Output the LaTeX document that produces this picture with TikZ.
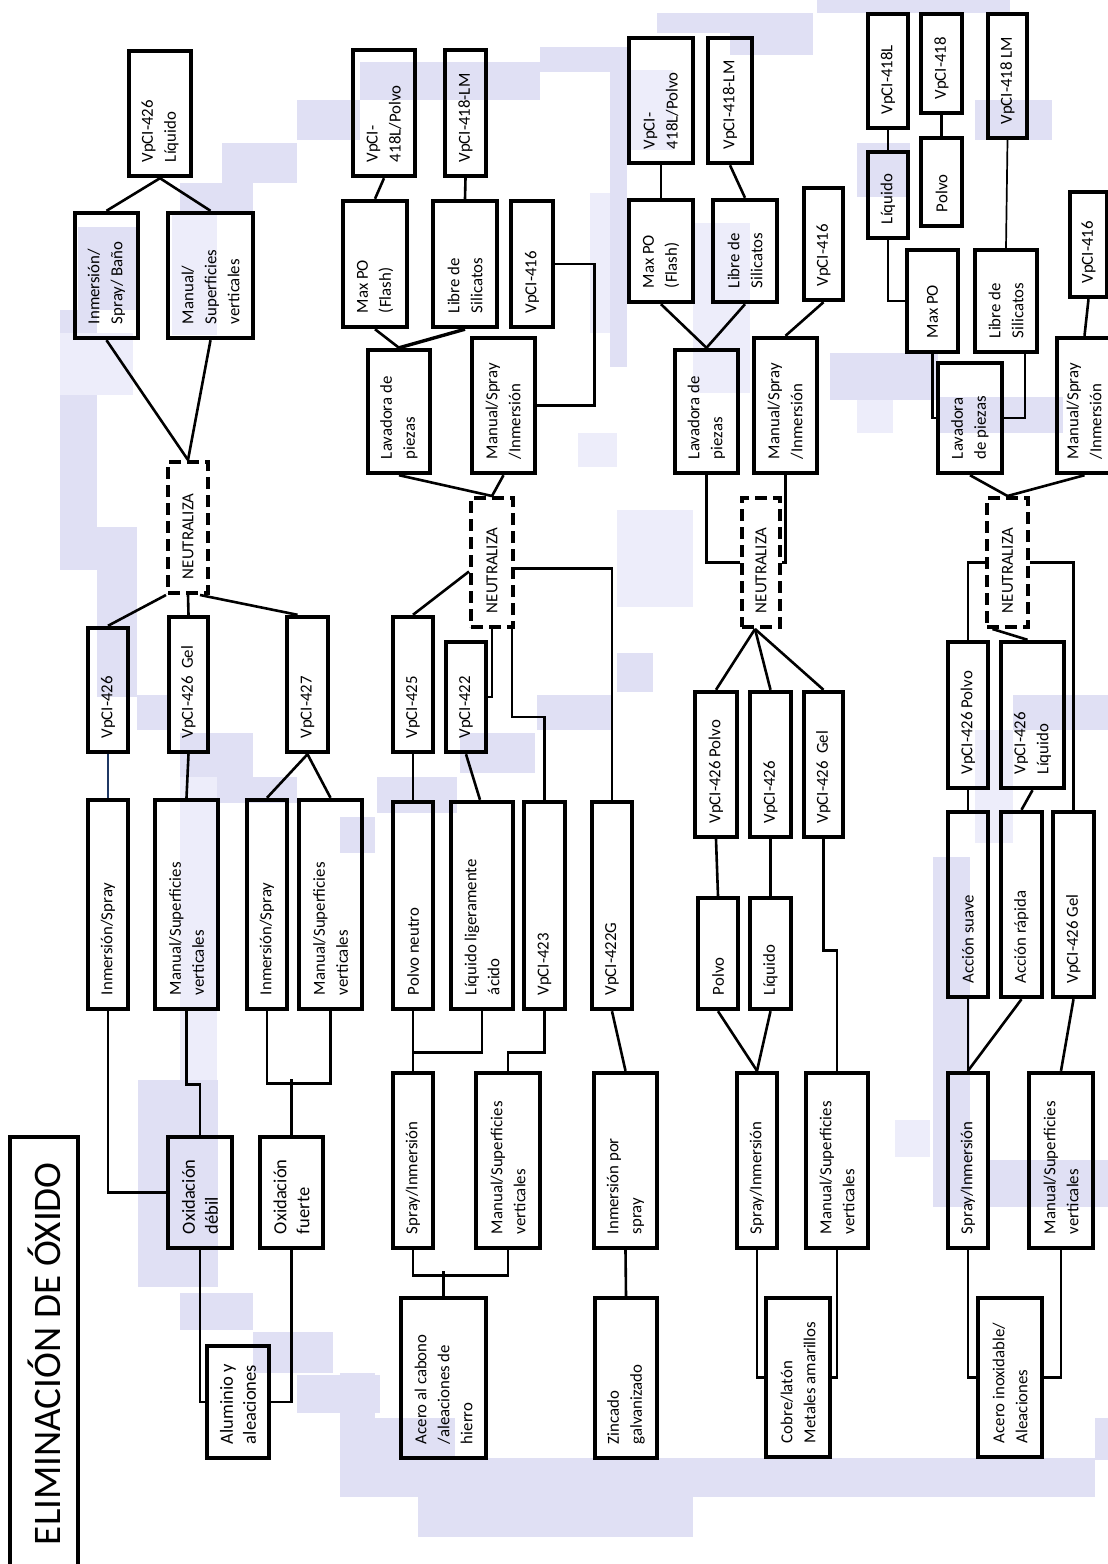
\documentclass[tikz,border=0pt]{standalone}
\usepackage{fontspec}
\setmainfont{Carlito}
\usepackage{graphicx}
\usetikzlibrary{calc}
\definecolor{lavanda}{RGB}{224,224,244}
\definecolor{lavclara}{RGB}{237,237,250}
\definecolor{azulosc}{RGB}{31,56,100}
% texto girado, alineado abajo dentro de la caja
\newcommand{\vt}[2]{\rotatebox{90}{\parbox{\dimexpr#1pt-28pt\relax}{\raggedright #2}}}

\begin{document}
\begin{tikzpicture}[x=1pt, y=-1pt,
    box/.style={draw, line width=4.4pt, inner sep=0pt, font=\fontsize{16.8}{23}\selectfont},
    neutra/.style={box, line width=4pt, dash pattern=on 12pt off 6pt},
    grande/.style={font=\fontsize{18.5}{23}\selectfont},
    link/.style={line width=2.6pt},
    thinlink/.style={line width=1.7pt}]
    \useasboundingbox (0,0) rectangle (1108,1564);

    % Fondo (franja lavanda)
    \foreach \xa/\ya/\xb/\yb in {297/100/360/140, 360/62/540/100, 540/47/627/72, 222/143/297/183, 180/183/253/213,
        78/227/137/310, 60/310/97/570, 97/527/137/697, 137/695/168/730,
        180/733/253/777, 217/777/297/803, 138/1080/218/1287,
        180/1293/253/1330, 253/1332/333/1373, 297/1375/380/1413, 340/1373/375/1497,
        375/1418/455/1497, 455/1458/1095/1497, 418/1497/693/1537, 1095/1418/1108/1460,
        933/857/970/1207, 990/1160/1108/1207, 1013/695/1108/730,
        617/653/653/692, 537/695/613/730, 460/733/535/773, 377/777/457/813, 340/817/375/853,
        610/67/627/367, 657/13/780/33, 817/0/1010/13, 730/13/813/55,
        857/143/910/197, 975/100/1052/140, 830/353/938/400, 938/397/1063/433}
        \fill[lavanda] (\xa,\ya) rectangle (\xb,\yb);
    \foreach \xa/\ya/\xb/\yb in {60/333/133/395, 172/215/217/335, 180/777/217/1080, 617/510/693/607,
        627/70/673/150, 590/193/610/333, 578/433/617/467, 693/223/750/393, 975/730/1013/843,
        895/1120/930/1157, 857/400/893/433}
        \fill[lavclara] (\xa,\ya) rectangle (\xb,\yb);

    % Titulo
    \node[box, minimum width=68, minimum height=463, font=\fontsize{39}{42}\selectfont] (titulo) at (44,1368.5) {\rotatebox{90}{\makebox[353pt][l]{ELIMINACIÓN DE ÓXIDO}}};

    % Aluminio y aleaciones
    \node[box, minimum width=62, minimum height=125] (c1liq) at (160,113.5) {\vt{125}{VpCI-426\\Líquido}};
    \node[box, minimum width=63, minimum height=125] (c1inm) at (106.5,275.5) {\vt{125}{Inmersión/\\Spray/ Baño}};
    \node[box, minimum width=85, minimum height=125] (c1man) at (210.5,275.5) {\vt{125}{Manual/\\Superficies\\verticales}};
    \node[neutra, minimum width=40, minimum height=131] (n1) at (188,527.5) {\vt{131}{NEUTRALIZA}};
    \node[box, minimum width=40, minimum height=124] (c1v426) at (108,690) {\vt{124}{VpCI-426}};
    \node[box, minimum width=39, minimum height=135] (c1gel) at (188.5,684.5) {\vt{135}{VpCI-426~ Gel}};
    \node[box, minimum width=41, minimum height=135] (c1v427) at (307.5,684.5) {\vt{135}{VpCI-427}};
    \node[box, minimum width=40, minimum height=209] (c1is) at (108,904.5) {\vt{209}{Inmersión/Spray}};
    \node[box, minimum width=63, minimum height=209] (c1ms) at (186.5,904.5) {\vt{209}{Manual/Superficies\\verticales}};
    \node[box, minimum width=40, minimum height=209] (c1is2) at (267,904.5) {\vt{209}{Inmersión/Spray}};
    \node[box, minimum width=63, minimum height=209] (c1ms2) at (330.5,904.5) {\vt{209}{Manual/Superficies\\verticales}};
    \node[box, grande, minimum width=64, minimum height=111] (odeb) at (200,1192.5) {\vt{111}{Oxidación\\débil}};
    \node[box, grande, minimum width=63, minimum height=111] (ofue) at (291.5,1192.5) {\vt{111}{Oxidación\\fuerte}};
    \node[box, grande, minimum width=62, minimum height=112] (alu) at (238,1402) {\vt{112}{Aluminio~y\\aleaciones}};

    \draw[link] (c1liq.south) -- (c1inm.north);
    \draw[link] (c1liq.south) -- (c1man.north);
    \draw[link] (c1inm.south) -- (n1.north);
    \draw[link] (c1man.south) -- (n1.north);
    \draw[link] (n1.south west) -- (c1v426.north);
    \draw[link] (n1.south) -- (c1gel.north);
    \draw[link] ($(n1.south)+(12,0)$) -- ($(c1v427.north)+(-10,0)$);
    \draw[thinlink, azulosc] (c1v426.south) -- (c1is.north);
    \draw[link] (c1gel.south) -- (c1ms.north);
    \draw[link] (c1v427.south) -- (c1is2.north);
    \draw[link] (c1v427.south) -- (c1ms2.north);
    \draw[link] (c1is.south) |- (odeb.west);
    \draw[link] (c1ms.south) -- ++(0,73) -| (odeb.north);
    \draw[link] (c1is2.south) -- ++(0,72) -| (c1ms2.south);
    \draw[link] (ofue.north) -- ++(0,-56);
    \draw[link] (odeb.south) |- (alu.west);
    \draw[link] (ofue.south) |- (alu.east);

    % Acero al carbono y zincado
    \node[box, minimum width=62, minimum height=126] (c2p418) at (384,113) {\vt{126}{VpCI-\\418L/Polvo}};
    \node[box, minimum width=41, minimum height=126] (c2lm) at (465.5,113) {\vt{126}{VpCI-418-LM}};
    \node[box, minimum width=64, minimum height=126] (c2max) at (375,264) {\vt{126}{Max PO\\(Flash)}};
    \node[box, minimum width=64, minimum height=126] (c2lib) at (465,264) {\vt{126}{Libre de\\Silicatos}};
    \node[box, minimum width=42, minimum height=126] (c2v416) at (532,264) {\vt{126}{VpCI-416}};
    \node[box, minimum width=62, minimum height=123] (c2lav) at (399,411.5) {\vt{123}{Lavadora de\\piezas}};
    \node[box, minimum width=63, minimum height=135] (c2msi) at (503.5,405.5) {\vt{135}{Manual/Spray\\/Inmersión}};
    \node[neutra, minimum width=42, minimum height=129] (n2) at (492,562.5) {\vt{129}{NEUTRALIZA}};
    \node[box, minimum width=40, minimum height=135] (c2v425) at (413,684.5) {\vt{135}{VpCI-425}};
    \node[box, minimum width=40, minimum height=110] (c2v422) at (466,697) {\vt{110}{VpCI-422}};
    \node[box, minimum width=40, minimum height=207] (c2pn) at (413,905.5) {\vt{207}{Polvo neutro}};
    \node[box, minimum width=62, minimum height=207] (c2lla) at (482,905.5) {\vt{207}{Líquido ligeramente\\ácido}};
    \node[box, minimum width=41, minimum height=207] (c2v423) at (544.5,905.5) {\vt{207}{VpCI-423}};
    \node[box, minimum width=40, minimum height=207] (c2v422g) at (612,905.5) {\vt{207}{VpCI-422G}};
    \node[box, minimum width=40, minimum height=175] (c2si) at (413,1160.5) {\vt{175}{Spray/Inmersión}};
    \node[box, minimum width=64, minimum height=175] (c2ms) at (508,1160.5) {\vt{175}{Manual/Superficies\\verticales}};
    \node[box, minimum width=63, minimum height=175] (c2ips) at (625.5,1160.5) {\vt{175}{Inmersión por\\spray}};
    \node[box, minimum width=85, minimum height=160] (acero) at (443.5,1378) {\vt{160}{Acero al cabono\\/aleaciones de\\hierro}};
    \node[box, minimum width=62, minimum height=160] (zinc) at (626,1378) {\vt{160}{Zincado\\galvanizado}};

    \draw[link] (c2p418.south) -- (c2max.north);
    \draw[link] (c2lm.south) -- (c2lib.north);
    \draw[link] (c2max.south) -- (c2lav.north);
    \draw[line width=3.4pt] (c2lib.south) -- (c2lav.north);
    \draw[link] (c2v416.east) -- ++(39,0) |- (c2msi.east);
    \draw[link] (c2lav.south) -- (n2.north);
    \draw[link] (c2msi.south) -- (n2.north);
    \draw[link] ($(n2.west)+(0,9)$) -- (c2v425.north);
    \draw[link] (n2.south) |- (c2v422.east);
    \draw[link] ($(n2.south east)+(-3,0)$) -- ++(0,88) -| (c2v423.north);
    \draw[link] ($(n2.east)+(0,6)$) -| (c2v422g.north);
    \draw[link] (c2v425.south) -- (c2pn.north);
    \draw[link] (c2v422.south) -- ($(c2lla.north)+(-2,0)$);
    \draw[link] (c2pn.south) -- (c2si.north);
    \draw[link] (c2lla.south) -- ++(0,41) -| (c2si.north);
    \draw[link] (c2v423.south) -- ++(0,41) -| (c2ms.north);
    \draw[link] (c2v422g.south) -- (c2ips.north);
    \draw[link] (c2si.south) -- ++(0,25) -| (c2ms.south);
    \draw[link] (acero.north) -- ++(0,-25);
    \draw[link] (c2ips.south) -- (zinc.north);

    % Cobre / laton
    \node[box, minimum width=64, minimum height=125] (c3p418) at (661,100.5) {\vt{125}{VpCI-\\418L/Polvo}};
    \node[box, minimum width=44, minimum height=125] (c3lm) at (730,100.5) {\vt{125}{VpCI-418-LM}};
    \node[box, minimum width=64, minimum height=102] (c3max) at (661,251) {\vt{102}{Max PO\\(Flash)}};
    \node[box, minimum width=64, minimum height=102] (c3lib) at (745,251) {\vt{102}{Libre de\\Silicatos}};
    \node[box, minimum width=39, minimum height=112] (c3v416) at (823.5,244) {\vt{112}{VpCI-416}};
    \node[box, minimum width=63, minimum height=123] (c3lav) at (706.5,411.5) {\vt{123}{Lavadora de\\piezas}};
    \node[box, minimum width=63, minimum height=135] (c3msi) at (785.5,405.5) {\vt{135}{Manual/Spray\\/Inmersión}};
    \node[neutra, minimum width=38, minimum height=129] (n3) at (761,562.5) {\vt{129}{NEUTRALIZA}};
    \node[box, minimum width=42, minimum height=145] (c3vp) at (716,764.5) {\vt{145}{VpCI-426 Polvo}};
    \node[box, minimum width=41, minimum height=145] (c3v426) at (770.5,764.5) {\vt{145}{VpCI-426}};
    \node[box, minimum width=39, minimum height=145] (c3gel) at (823.5,764.5) {\vt{145}{VpCI-426~ Gel}};
    \node[box, minimum width=40, minimum height=111] (c3pol) at (718,953.5) {\vt{111}{Polvo}};
    \node[box, minimum width=41, minimum height=111] (c3liq) at (770.5,953.5) {\vt{111}{Líquido}};
    \node[box, minimum width=40, minimum height=175] (c3si) at (757,1160.5) {\vt{175}{Spray/Inmersión}};
    \node[box, minimum width=62, minimum height=175] (c3ms) at (837,1160.5) {\vt{175}{Manual/Superficies\\verticales}};
    \node[box, minimum width=64, minimum height=159] (cobre) at (798,1377.5) {\vt{159}{Cobre/latón\\Metales amarillos}};

    \draw[link] (c3p418.south) -- (c3max.north);
    \draw[link] (c3lm.south) -- (c3lib.north);
    \draw[link] (c3max.south) -- (c3lav.north);
    \draw[link] (c3lib.south) -- (c3lav.north);
    \draw[link] (c3v416.south) -- (c3msi.north);
    \draw[link] (c3lav.south) |- (n3.west);
    \draw[link] (c3msi.south) |- (n3.east);
    \draw[link] ($(n3.south)+(-6,0)$) -- (c3vp.north);
    \draw[link] ($(n3.south)+(-6,0)$) -- (c3v426.north);
    \draw[link] ($(n3.south)+(-6,0)$) -- (c3gel.north);
    \draw[link] (c3vp.south) -- (c3pol.north);
    \draw[link] (c3v426.south) -- (c3liq.north);
    \draw[link] (c3gel.south) -- ++(0,111) -| (c3ms.north);
    \draw[link] (c3pol.south) -- (c3si.north);
    \draw[link] (c3liq.south) -- (c3si.north);
    \draw[link] (c3si.south) |- (cobre.west);
    \draw[link] (c3ms.south) |- (cobre.east);

    % Acero inoxidable
    \node[box, minimum width=40, minimum height=114] (c4l418) at (888,71) {\vt{114}{VpCI-418L}};
    \node[box, minimum width=41, minimum height=99] (c4v418) at (941.5,63.5) {\vt{99}{VpCI-418}};
    \node[box, minimum width=39, minimum height=124] (c4lm) at (1007.5,76) {\vt{124}{VpCI-418 LM}};
    \node[box, minimum width=40, minimum height=86] (c4liq) at (888,195) {\vt{86}{Líquido}};
    \node[box, minimum width=41, minimum height=88] (c4pol) at (941.5,182) {\vt{88}{Polvo}};
    \node[box, minimum width=51, minimum height=102] (c4max) at (932.5,301) {\vt{102}{Max PO}};
    \node[box, minimum width=62, minimum height=102] (c4lib) at (1006,301) {\vt{102}{Libre de\\Silicatos}};
    \node[box, minimum width=37, minimum height=105] (c4v416) at (1088.5,244.5) {\vt{105}{VpCI-416}};
    \node[box, minimum width=64, minimum height=110] (c4lav) at (970,418) {\vt{110}{Lavadora\\de piezas}};
    \node[box, minimum width=55, minimum height=135] (c4msi) at (1084.5,405.5) {\vt{135}{Manual/Spray\\/Inmersión}};
    \node[neutra, minimum width=41, minimum height=129] (n4) at (1007.5,562.5) {\vt{129}{NEUTRALIZA}};
    \node[box, minimum width=40, minimum height=146] (c4vp) at (968,715) {\vt{146}{VpCI-426 Polvo}};
    \node[box, minimum width=63, minimum height=146] (c4vl) at (1032.5,715) {\vt{146}{VpCI-426\\Líquido}};
    \node[box, minimum width=40, minimum height=185] (c4as) at (968,904.5) {\vt{185}{Acción suave}};
    \node[box, minimum width=41, minimum height=185] (c4ar) at (1021.5,904.5) {\vt{185}{Acción rápida}};
    \node[box, minimum width=41, minimum height=185] (c4gel) at (1073.5,904.5) {\vt{185}{VpCI-426 Gel}};
    \node[box, minimum width=40, minimum height=175] (c4si) at (968,1160.5) {\vt{175}{Spray/Inmersión}};
    \node[box, minimum width=64, minimum height=175] (c4ms) at (1061,1160.5) {\vt{175}{Manual/Superficies\\verticales}};
    \node[box, minimum width=64, minimum height=159] (inox) at (1010,1377.5) {\vt{159}{Acero inoxidable/\\Aleaciones}};

    \draw[link] (c4l418.south) -- (c4liq.north);
    \draw[link] (c4v418.south) -- (c4pol.north);
    \draw[link] (c4liq.south) |- (c4max.west);
    \draw[thinlink] (c4lm.south) -- (c4lib.north);
    \draw[link] (c4max.south) |- (c4lav.west);
    \draw[link] ($(c4lib.south)+(19,0)$) |- (c4lav.east);
    \draw[link] (c4v416.south) -- (c4msi.north);
    \draw[link] (c4lav.south) -- (n4.north);
    \draw[link] (c4msi.south) -- (n4.north);
    \draw[link] (n4.west) -| (c4vp.north);
    \draw[link] ($(n4.south)+(-15,0)$) -- ($(c4vl.north)+(-5,0)$);
    \draw[link] (n4.east) -| (c4gel.north);
    \draw[link] (c4vp.south) -- (c4as.north);
    \draw[link] (c4vl.south) -- (c4ar.north);
    \draw[link] (c4as.south) -- (c4si.north);
    \draw[link] (c4ar.south) -- (c4si.north);
    \draw[link] (c4gel.south) -- (c4ms.north);
    \draw[link] (c4si.south) |- (inox.west);
    \draw[link] (c4ms.south) |- (inox.east);
\end{tikzpicture}
\end{document}
